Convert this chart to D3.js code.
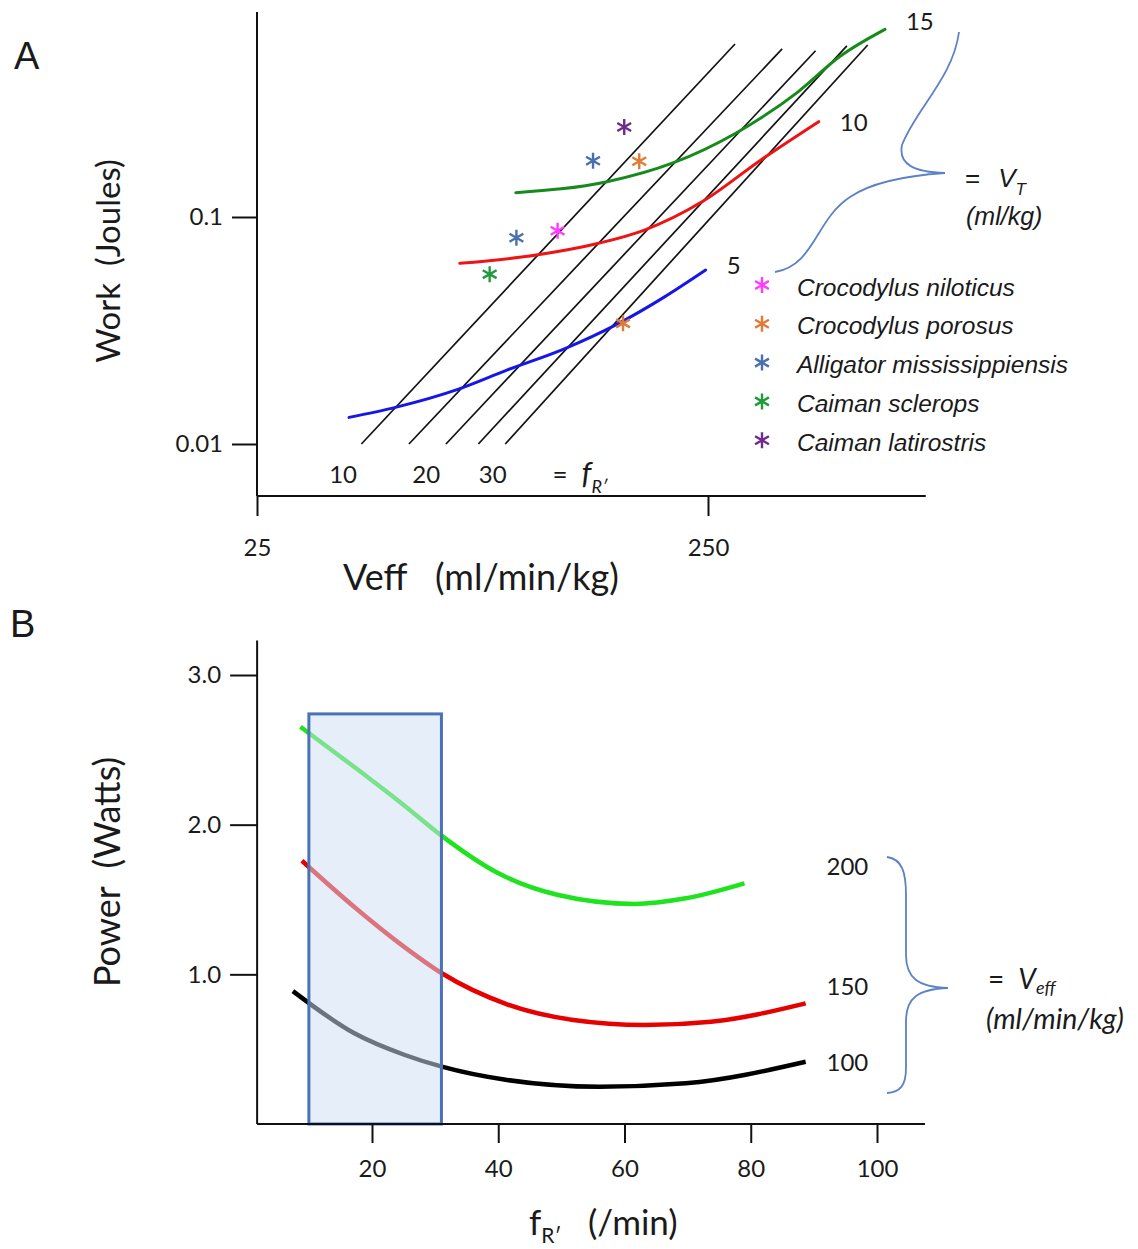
<!DOCTYPE html>
<html><head><meta charset="utf-8">
<script src="https://cdn.jsdelivr.net/npm/d3@7"></script>
<style>
html,body{margin:0;padding:0;background:#fff;}
svg{display:block;}
text{font-family:Lato,"Open Sans",sans-serif;fill:#1a1a1a;}
.ital{font-family:"Liberation Sans",Arial,sans-serif;font-style:italic;}
</style></head><body>
<svg id="fig" width="1138" height="1249"></svg>
<script>
// ---------- Panel A: work per breath vs effective ventilation (log-log) ----------
const veffTicks = [25, 250];
const workTicks = [0.01, 0.1];
const workTickLabels = ["0.01", "0.1"];
const veffAxisExtent = [25, 760];
const workAxisExtent = [0.0059, 0.8];

// tidal-volume curves (ml/kg), points are [Veff, Work]
const vtLevels = ["5", "10", "15"];
const vt5 = [[40,0.0131],[50.7,0.0145],[69.7,0.0174],[89.8,0.0212],[120.8,0.0264],[155.8,0.0334],[200.7,0.0446],[247,0.0584]];
const vt10 = [[70.4,0.0625],[104,0.068],[143,0.0766],[180.7,0.0876],[243,0.117],[327,0.178],[440,0.263]];
const vt15 = [[93.7,0.128],[149.3,0.143],[209,0.173],[288,0.234],[396,0.356],[489,0.508],[617,0.671]];
const vtColors = ["#1616e6", "#ee1414", "#178a1c"];

// breathing-frequency isopleths, [Veff, Work] at each end
const isoStart = [[42.6,0.01],[54.3,0.01],[65.6,0.01],[77.4,0.01],[88.8,0.01]];
const isoEnd = [[287,0.578],[365,0.55],[433,0.54],[508,0.567],[565,0.5725]];
const fLabels = ["10", "20", "30"];
const fLabelVeff = [38.8, 59.3, 83.3];

// species means
const species = ["Crocodylus niloticus","Crocodylus porosus","Alligator mississippiensis","Caiman sclerops","Caiman latirostris"];
const speciesColors = ["#ff3cff","#e07a35","#4a6fae","#1f9a3c","#6e2a8c"];
const speciesPoints = [
  [[116,0.087]],
  [[176,0.176],[162,0.034]],
  [[139,0.177],[94,0.081]],
  [[82,0.056]],
  [[163,0.249]]
];

// ---------- Panel B: power vs breathing frequency ----------
const fTicks = [20, 40, 60, 80, 100];
const powerTicks = [1, 2, 3];
const fAxisExtent = [1.8, 107.6];
const powerAxisExtent = [0, 3.23];
const veffLevels = ["100", "150", "200"];
const p100 = [[7.47,0.888],[17.2,0.606],[25.2,0.461],[31.06,0.383],[41.4,0.294],[56,0.249],[69.7,0.272],[88.7,0.416]];
const p150 = [[8.9,1.759],[17.2,1.45],[25.2,1.18],[31.06,1.007],[41.4,0.80],[51.9,0.695],[63.2,0.661],[73.7,0.683],[88.7,0.806]];
const p200 = [[8.67,2.654],[17.2,2.385],[25.2,2.125],[31.06,1.925],[39.8,1.68],[49.5,1.53],[61.6,1.47],[69.7,1.508],[79,1.608]];
const pColors = ["#000000", "#e60000", "#1ee31e"];
const pLabelY = [0.41, 0.915, 1.72];
const restingBand = [10, 31];
const restingTop = 2.74;

const svg = d3.select("#fig");
svg.append("rect").attr("width", 1138).attr("height", 1249).attr("fill", "#fff");

// ===== Panel A =====
const xA = d3.scaleLog().domain([25, 250]).range([257, 708]);
const yA = d3.scaleLog().domain([0.01, 0.1]).range([444, 217]);
const gA = svg.append("g");

// axis lines
gA.append("line").attr("x1", xA(veffAxisExtent[0])).attr("x2", xA(veffAxisExtent[0]))
  .attr("y1", yA(workAxisExtent[1])).attr("y2", yA(workAxisExtent[0]))
  .attr("stroke", "#111").attr("stroke-width", 2);
gA.append("line").attr("x1", xA(veffAxisExtent[0])).attr("x2", xA(veffAxisExtent[1]))
  .attr("y1", yA(workAxisExtent[0])).attr("y2", yA(workAxisExtent[0]))
  .attr("stroke", "#111").attr("stroke-width", 2);

const axA_y = d3.axisLeft(yA).tickValues(workTicks).tickSize(25).tickPadding(9)
  .tickFormat((d, i) => workTickLabels[i]);
gA.append("g").attr("transform", `translate(${xA(veffAxisExtent[0])},0)`).call(axA_y)
  .call(g => g.select(".domain").remove());
const axA_x = d3.axisBottom(xA).tickValues(veffTicks).tickSize(20).tickPadding(23)
  .tickFormat(d3.format("d"));
gA.append("g").attr("transform", `translate(0,${yA(workAxisExtent[0])})`).call(axA_x)
  .call(g => g.select(".domain").remove());
gA.selectAll(".tick line").attr("stroke", "#111").attr("stroke-width", 2);
gA.selectAll(".tick text").style("font-family", "Lato, sans-serif").style("font-size", "24px").attr("fill", "#1a1a1a");

// isopleths
const lineA = d3.line().x(d => xA(d[0])).y(d => yA(d[1]));
gA.append("g").selectAll("path").data(isoStart.map((s, i) => [s, isoEnd[i]])).join("path")
  .attr("d", lineA).attr("fill", "none").attr("stroke", "#111").attr("stroke-width", 1.7);

// tidal-volume curves
const curveA = d3.line().x(d => xA(d[0])).y(d => yA(d[1])).curve(d3.curveMonotoneX);
const vtData = [vt5, vt10, vt15];
gA.append("g").selectAll("path").data(vtData).join("path")
  .attr("d", curveA).attr("fill", "none").attr("stroke", (d, i) => vtColors[i])
  .attr("stroke-width", 3).attr("stroke-linecap", "round");

// VT labels at curve ends
const vtLabelDy = [-4, 1, -8];
gA.append("g").selectAll("text").data(vtData).join("text")
  .attr("x", d => xA(d[d.length - 1][0]) + 21)
  .attr("y", (d, i) => yA(d[d.length - 1][1]) + vtLabelDy[i])
  .attr("dy", "0.35em").style("font-size", "24px").text((d, i) => vtLevels[i]);

// species asterisks
const star = d3.symbol(d3.symbolAsterisk, 180);
const ptsA = speciesPoints.flatMap((pts, i) => pts.map(p => ({p, c: speciesColors[i]})));
gA.append("g").selectAll("path").data(ptsA).join("path")
  .attr("transform", d => `translate(${xA(d.p[0])},${yA(d.p[1])})`)
  .attr("d", star).attr("fill", "none").attr("stroke", d => d.c).attr("stroke-width", 2.4);

// frequency labels
const fLabelWork = 0.0073;
gA.append("g").selectAll("text").data(fLabels).join("text")
  .attr("x", (d, i) => xA(fLabelVeff[i])).attr("y", yA(fLabelWork)).attr("dy", "0.35em")
  .attr("text-anchor", "middle").style("font-size", "24px").text(d => d);
const fEq = gA.append("text").attr("x", xA(113)).attr("y", yA(fLabelWork)).attr("dy", "0.35em")
  .style("font-size", "26px");
fEq.append("tspan").text("=");
fEq.append("tspan").attr("dx", 14).style("font-style", "italic").style("font-size", "31px").text("f");
fEq.append("tspan").attr("dy", 9).style("font-style", "italic").style("font-size", "18px").text("R\u2032");

// brace for VT
const tipA = [945, 173];
const bracePathA = (t) => {
  const [x, y] = t;
  return `M${x+14},${y-141} C${x+8},${y-95} ${x-30},${y-63} ${x-43},${y-28}` +
    ` C${x-47},${y-8} ${x-30},${y-1} ${x},${y}` +
    ` C${x-30},${y+2} ${x-70},${y+7} ${x-95},${y+24}` +
    ` C${x-130},${y+47} ${x-130},${y+92} ${x-170},${y+99}`;
};
gA.append("path").attr("d", bracePathA(tipA)).attr("fill", "none")
  .attr("stroke", "#5b82c4").attr("stroke-width", 1.8);
const vtEq = gA.append("text").attr("x", 965).attr("y", 178).attr("dy", "0.35em")
  .attr("class", "ital").style("font-size", "26px");
vtEq.append("tspan").style("font-style", "normal").text("=");
vtEq.append("tspan").attr("dx", 18).text("V");
vtEq.append("tspan").attr("dy", 8).style("font-size", "17px").text("T");
gA.append("text").attr("class", "ital").attr("x", 966).attr("y", 216).attr("dy", "0.35em")
  .style("font-size", "25px").text("(ml/kg)");

// legend
const legY0 = 285, legStep = 38.8;
const leg = gA.append("g");
leg.selectAll("path").data(species).join("path")
  .attr("transform", (d, i) => `translate(762,${legY0 + i * legStep})`)
  .attr("d", star).attr("fill", "none").attr("stroke", (d, i) => speciesColors[i]).attr("stroke-width", 2.4);
leg.selectAll("text").data(species).join("text")
  .attr("class", "ital").attr("x", 797).attr("y", (d, i) => legY0 + i * legStep + 2)
  .attr("dy", "0.35em").style("font-size", "24.5px").text(d => d);

// titles
gA.append("text").attr("x", 14).attr("y", 69).style("font-family", "'Liberation Sans', Arial, sans-serif")
  .style("font-size", "38px").text("A");
gA.append("text").attr("transform", "translate(120,261) rotate(-90)").attr("text-anchor", "middle")
  .style("font-size", "33px").style("white-space", "pre").text("Work  (Joules)");
const xtA = gA.append("text").attr("y", 590).style("font-size", "36px");
xtA.append("tspan").attr("x", 343).text("Veff");
xtA.append("tspan").attr("x", 435).text("(ml/min/kg)");

// ===== Panel B =====
const xB = d3.scaleLinear().domain([20, 100]).range([372, 877]);
const yB = d3.scaleLinear().domain([0, 3]).range([1124, 675]);
const gB = svg.append("g");

const curveB = d3.line().x(d => xB(d[0])).y(d => yB(d[1])).curve(d3.curveMonotoneX);
const pData = [p100, p150, p200];
gB.append("g").selectAll("path").data(pData).join("path")
  .attr("d", curveB).attr("fill", "none").attr("stroke", (d, i) => pColors[i])
  .attr("stroke-width", 4.5);

// resting-frequency band, translucent over the curves
gB.append("rect")
  .attr("x", xB(restingBand[0])).attr("y", yB(restingTop))
  .attr("width", xB(restingBand[1]) - xB(restingBand[0]))
  .attr("height", yB(0) - yB(restingTop))
  .attr("fill", "#cfe0f3").attr("fill-opacity", 0.52)
  .attr("stroke", "#4a72b8").attr("stroke-width", 3);

// axes
gB.append("line").attr("x1", xB(fAxisExtent[0])).attr("x2", xB(fAxisExtent[0]))
  .attr("y1", yB(powerAxisExtent[1])).attr("y2", yB(0))
  .attr("stroke", "#111").attr("stroke-width", 2);
gB.append("line").attr("x1", xB(fAxisExtent[0])).attr("x2", xB(fAxisExtent[1]))
  .attr("y1", yB(0)).attr("y2", yB(0))
  .attr("stroke", "#111").attr("stroke-width", 2);
const axB_y = d3.axisLeft(yB).tickValues(powerTicks).tickSize(27).tickPadding(9)
  .tickFormat(d3.format(".1f"));
gB.append("g").attr("transform", `translate(${xB(fAxisExtent[0])},0)`).call(axB_y)
  .call(g => g.select(".domain").remove());
const axB_x = d3.axisBottom(xB).tickValues(fTicks).tickSize(19).tickPadding(17)
  .tickFormat(d3.format("d"));
gB.append("g").attr("transform", `translate(0,${yB(0)})`).call(axB_x)
  .call(g => g.select(".domain").remove());
gB.selectAll(".tick line").attr("stroke", "#111").attr("stroke-width", 2);
gB.selectAll(".tick text").style("font-family", "Lato, sans-serif").style("font-size", "24px").attr("fill", "#1a1a1a");

// curve labels
gB.append("g").selectAll("text").data(veffLevels).join("text")
  .attr("x", xB(92)).attr("y", (d, i) => yB(pLabelY[i])).attr("dy", "0.35em")
  .style("font-size", "24px").text(d => d);

// brace for Veff
const tipB = [948, 988];
const bracePathB = (t) => {
  const [x, y] = t;
  return `M${x-61},${y-131} C${x-46},${y-129} ${x-42},${y-116} ${x-42},${y-93}` +
    ` L${x-42},${y-33} C${x-42},${y-10} ${x-30},${y-1} ${x},${y}` +
    ` C${x-30},${y+1} ${x-42},${y+10} ${x-42},${y+33}` +
    ` L${x-42},${y+80} C${x-42},${y+98} ${x-48},${y+104} ${x-61},${y+105}`;
};
gB.append("path").attr("d", bracePathB(tipB)).attr("fill", "none")
  .attr("stroke", "#5b82c4").attr("stroke-width", 1.8);
const veEq = gB.append("text").attr("x", 988).attr("y", 979).attr("dy", "0.35em")
  .style("font-size", "28px");
veEq.append("tspan").text("=");
veEq.append("tspan").attr("dx", 14).style("font-style", "italic").text("V");
veEq.append("tspan").attr("dy", 5).style("font-style", "italic").style("font-size", "18px").text("eff");
gB.append("text").attr("x", 986).attr("y", 1019).attr("dy", "0.35em")
  .style("font-style", "italic").style("font-size", "28.5px").text("(ml/min/kg)");

// titles
gB.append("text").attr("x", 10).attr("y", 637).style("font-family", "'Liberation Sans', Arial, sans-serif")
  .style("font-size", "38px").text("B");
gB.append("text").attr("transform", "translate(120,872) rotate(-90)").attr("text-anchor", "middle")
  .style("font-size", "36px").style("white-space", "pre").text("Power  (Watts)");
const fT = gB.append("text").attr("y", 1235).style("font-size", "35px");
fT.append("tspan").attr("x", 529).text("f");
fT.append("tspan").attr("dy", 8).style("font-size", "21px").text("R\u2032");
fT.append("tspan").attr("x", 588).attr("dy", -8).text("(/min)");
</script>
</body></html>
